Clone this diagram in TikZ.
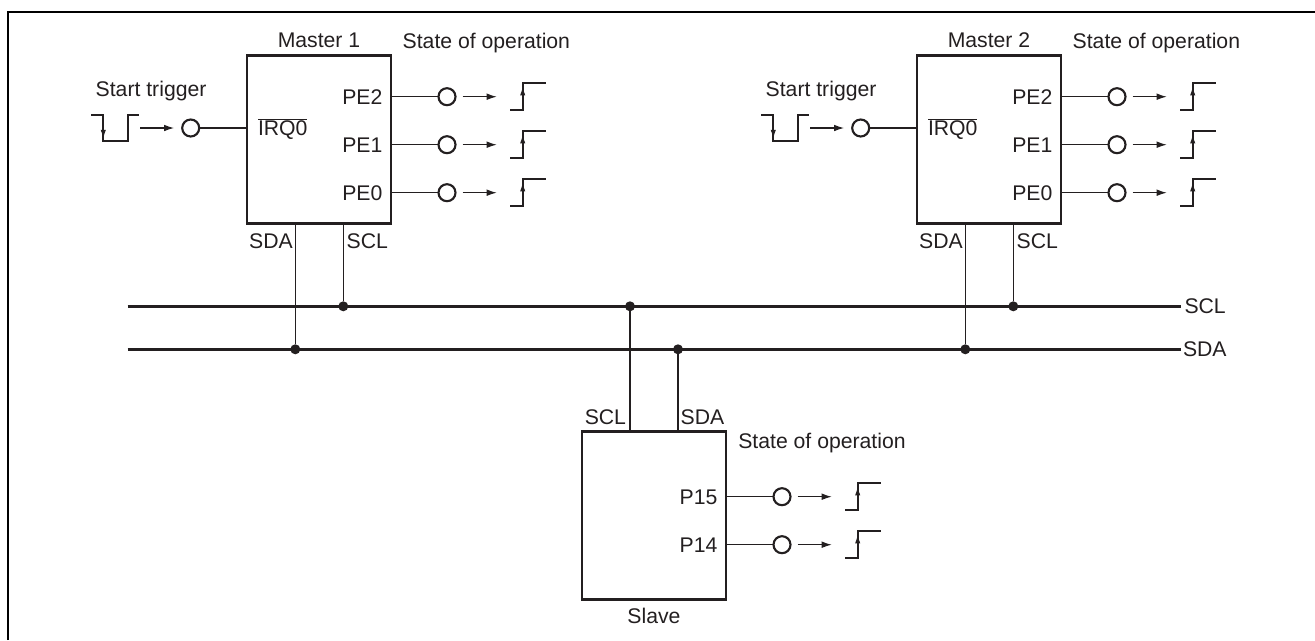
\documentclass[tikz,border=0pt]{standalone}
\usepackage{fontspec}
\setmainfont{Liberation Sans}
\usepackage{xcolor}
\definecolor{inkdark}{HTML}{231F20}
\usepackage{tikz}
\usetikzlibrary{arrows.meta, positioning}

\tikzset{
  chipbox/.style={draw=inkdark, line width=2pt, inner sep=0pt, outer sep=0pt,
                  minimum width=108pt, minimum height=126pt},
  lbl/.style={inner sep=0pt, outer sep=0pt, text=inkdark, font=\fontsize{15.9}{18}\selectfont,
              text height=11.4pt, text depth=0pt},
  portcircle/.style={circle, draw=inkdark, line width=1.6pt, fill=white, inner sep=0pt,
                     outer sep=0pt, minimum size=12.75pt},
  junction/.style={circle, fill=inkdark, inner sep=0pt, outer sep=0pt, minimum size=7.5pt},
  wire/.style={draw=inkdark, line width=0.9pt},
  busline/.style={draw=inkdark, line width=1.9pt},
  stim/.style={draw=inkdark, line width=0.8pt, -{Latex[length=7.5pt,width=5pt]}},
  wave/.style={draw=inkdark, line width=1.6pt},
  waveedge/.style={draw=inkdark, line width=0.8pt, -{Latex[length=6.5pt,width=4pt]}},
}

% one output pin: name, box right edge, row, pin label
\newcommand{\outrow}[4]{%
  \begin{scope}[shift={(#2,#3)}]
    \coordinate (#1) at (0,0);
    \node[lbl, anchor=east] at (-8.6,0) {#4};
    \node[portcircle] (#1c) at (56,0) {};
    \draw[wire] (#1) -- (#1c);
    \coordinate (#1s) at (71.7,0);
    \coordinate (#1e) at (105.7,0);
    \draw[stim] (#1s) -- (#1e);
    \draw[wave] (119,13.3) -- ++(12.7,0) -- ++(0,-26.6) -- ++(23.5,0);
    \draw[waveedge] (131.7,3) -- (131.7,-10);
  \end{scope}}

\begin{document}
\begin{tikzpicture}[x=0.75pt, y=-0.75pt]
  \useasboundingbox (0,0) rectangle (1315,640);
  \draw[black, line width=1.5pt] (8,640) -- (8,12) -- (1315,12);

  % bus
  \coordinate (sclbus) at (127.5,306.3);
  \coordinate (sdabus) at (127.5,349.3);
  \node[lbl, anchor=west] (scllbl) at (1184.5,306.3) {SCL};
  \node[lbl, anchor=west] (sdalbl) at (1183,349.3) {SDA};
  \draw[busline] (sclbus) -- (1180.7,306.3);
  \draw[busline] (sdabus) -- (1180.7,349.3);

  % masters
  \foreach \n/\dx in {1/0, 2/670}{
    \begin{scope}[shift={(\dx,0)}]
      \node[chipbox] (m\n) at (319,139.7) {};
      \node[lbl, above=6.5pt of m\n] {Master \n};
      \node[lbl, anchor=west] at (402.7,41) {State of operation};

      \node[lbl, anchor=west] at (95.7,88.7) {Start trigger};
      \node[lbl, anchor=west] at (258,128) {$\overline{\mbox{IRQ0}}$};
      \node[portcircle] (irq\n) at (190.7,128) {};
      \draw[wire] (irq\n) -- (m\n.west |- irq\n);
      \coordinate (trig\n s) at (140,128);
      \coordinate (trig\n e) at (174,128);
      \draw[stim] (trig\n s) -- (trig\n e);
      \draw[wave] (91,114.7) -- ++(12.3,0) -- ++(0,26.6) -- ++(24.4,0) -- ++(0,-26.6) -- ++(11,0);
      \draw[waveedge] (103.3,125) -- (103.3,138.5);

      \outrow{pa\n}{391}{96.7}{PE2}
      \outrow{pb\n}{391}{144.7}{PE1}
      \outrow{pc\n}{391}{192.7}{PE0}

      \node[lbl, anchor=east] at (292.7,240.7) {SDA};
      \node[lbl, anchor=west] at (346.7,240.7) {SCL};
      \node[junction] (da\n) at (295.3,349.3) {};
      \node[junction] (cl\n) at (343.3,306.3) {};
      \draw[wire] (m\n.south -| da\n) -- (da\n);
      \draw[wire] (m\n.south -| cl\n) -- (cl\n);
    \end{scope}
  }

  % slave
  \node[chipbox] (sl) at (654,515.8) {};
  \node[lbl, below=6.5pt of sl] {Slave};
  \node[lbl, anchor=east] at (626,416.7) {SCL};
  \node[lbl, anchor=west] at (680.7,416.7) {SDA};
  \node[lbl, anchor=west] at (738.3,440.7) {State of operation};
  \node[junction] (cls) at (630,306.3) {};
  \node[junction] (das) at (678,349.3) {};
  \draw[wire] (sl.north -| cls) -- (cls);
  \draw[wire] (sl.north -| das) -- (das);
  \outrow{pf}{726}{496.7}{P15}
  \outrow{pg}{726}{544.7}{P14}
\end{tikzpicture}
\end{document}
